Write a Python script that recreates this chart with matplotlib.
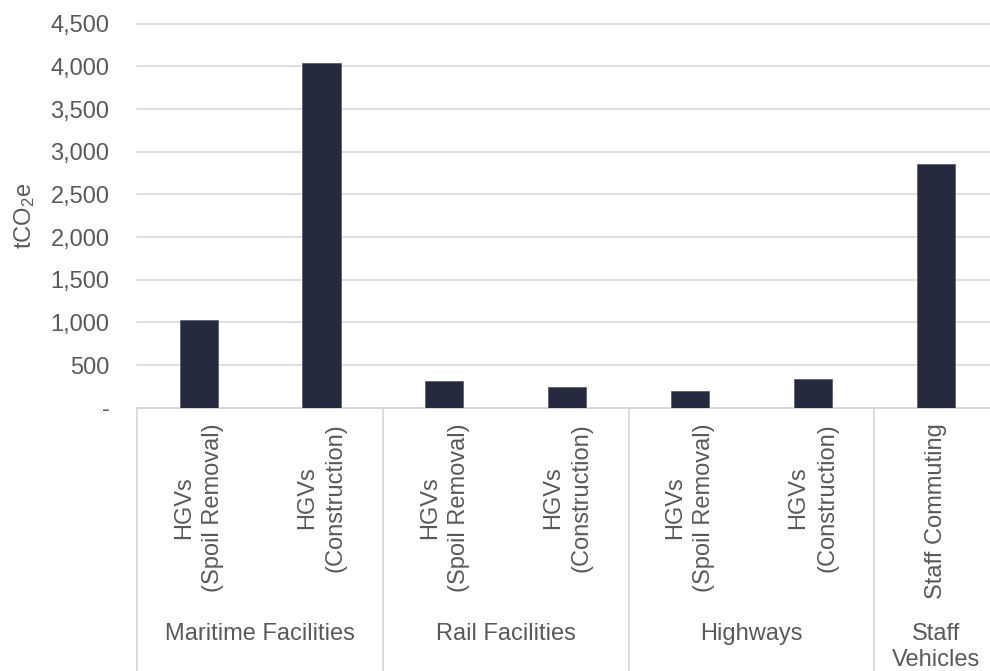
import matplotlib
matplotlib.use("Agg")
import matplotlib.pyplot as plt
from matplotlib.ticker import FuncFormatter, MultipleLocator
import matplotlib.transforms as mtransforms

plt.rcParams['font.family'] = ['Liberation Sans', 'DejaVu Sans']
plt.rcParams['mathtext.fontset'] = 'custom'
plt.rcParams['mathtext.rm'] = 'Liberation Sans'
plt.rcParams['mathtext.it'] = 'Liberation Sans'

# ---- data ----
categories = ['HGVs\n(Spoil Removal)', 'HGVs\n(Construction)',
              'HGVs\n(Spoil Removal)', 'HGVs\n(Construction)',
              'HGVs\n(Spoil Removal)', 'HGVs\n(Construction)',
              'Staff Commuting']
values = [1030, 4040, 310, 245, 190, 335, 2860]
groups = ['Maritime Facilities', 'Rail Facilities', 'Highways', 'Staff\nVehicles']
group_sizes = [2, 2, 2, 1]
y_label = r'tCO$_2$e'

text_color = '#595959'
grid_color = '#d9d9d9'
bar_color = '#272a3f'

fig = plt.figure(figsize=(9.9, 6.71), dpi=100)
ax = fig.add_axes([137.3 / 990, 263.3 / 671, 859.7 / 990, 384 / 671])

x = list(range(len(categories)))
ax.bar(x, values, width=0.31, color=bar_color, edgecolor='#5d6072', linewidth=0.6, zorder=3)

ax.set_xlim(-0.5, len(categories) - 0.5)
ax.set_ylim(0, 4500)
ax.yaxis.set_major_locator(MultipleLocator(500))
ax.yaxis.set_major_formatter(FuncFormatter(lambda v, p: '-' if v == 0 else f'{int(v):,}'))
ax.tick_params(axis='y', length=0, pad=20, labelsize=17, labelcolor=text_color)
ax.set_xticks([])

for s in ['top', 'right', 'left']:
    ax.spines[s].set_visible(False)
ax.spines['bottom'].set_color(grid_color)
ax.spines['bottom'].set_linewidth(1.3)

ax.grid(axis='y', color=grid_color, linewidth=1.2, zorder=0)
ax.set_axisbelow(True)
for gl in ax.get_ygridlines():
    gl.set_clip_on(False)

ax.set_ylabel(y_label, fontsize=17, color=text_color, labelpad=10)

trans = mtransforms.blended_transform_factory(ax.transData, ax.transAxes)

# category labels
for xi, lab in zip(x, categories):
    ax.text(xi, -0.04, lab, transform=trans, rotation=90, ha='center', va='top',
            multialignment='center', fontsize=17, color=text_color, linespacing=1.4)

# group separators and labels
start = 0
bounds = [-0.5]
for g, n in zip(groups, group_sizes):
    center = start + (n - 1) / 2
    ax.text(center, -0.56, g, transform=trans, ha='center', va='top',
            multialignment='center', fontsize=17, color=text_color, linespacing=1.25)
    start += n
    bounds.append(start - 0.5)

for b in bounds:
    ax.plot([b, b], [0, -0.72], transform=trans, color=grid_color, linewidth=1.3, clip_on=False)

fig.savefig('out.png', dpi=100)
